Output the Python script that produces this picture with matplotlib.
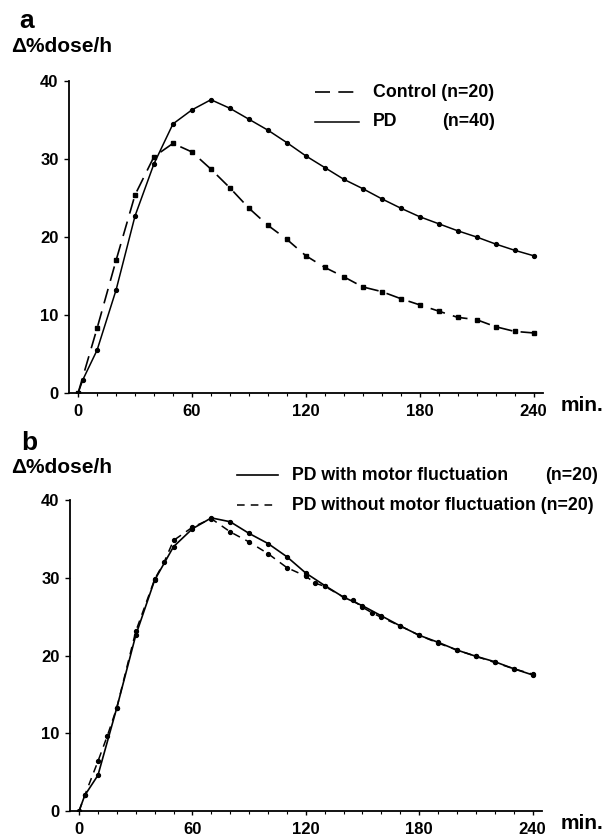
import numpy as np
import matplotlib
matplotlib.use('Agg')
import matplotlib.pyplot as plt
from matplotlib.lines import Line2D
from matplotlib.ticker import MultipleLocator

plt.rcParams['font.family'] = 'Liberation Sans'
plt.rcParams['font.weight'] = 'bold'

# panel a
a_time = [0, 2.5] + list(range(10, 250, 10))
a_pd = [0, 1.7, 5.5, 13.2, 22.7, 29.4, 34.5, 36.3, 37.6, 36.5, 35.1, 33.7, 32.1, 30.4,
        28.9, 27.4, 26.2, 24.9, 23.7, 22.6, 21.7, 20.8, 20.0, 19.1, 18.3, 17.6]
a_ctrl_time = [0] + list(range(10, 250, 10))
a_ctrl = [0, 8.3, 17.0, 25.4, 30.3, 32.0, 30.9, 28.7, 26.3, 23.7, 21.5, 19.7, 17.6,
          16.1, 14.9, 13.6, 13.0, 12.1, 11.3, 10.5, 9.7, 9.4, 8.5, 7.9, 7.7]

# panel b
b_time_with = [0, 3] + list(range(10, 250, 10))
b_with = [0, 2.0, 4.6, 13.3, 22.6, 29.7, 34.0, 36.3, 37.7, 37.2, 35.7, 34.4, 32.7, 30.6,
          29.0, 27.5, 26.4, 25.1, 23.8, 22.6, 21.7, 20.7, 19.9, 19.2, 18.3, 17.5]
b_time_without = [0, 3, 10, 15, 20, 30, 40, 45, 50, 60, 70, 80, 90, 100, 110, 120,
                  125, 130, 140, 145, 150, 155, 160, 170, 180, 190, 200, 210, 220, 230, 240]
b_without = [0, 2.0, 6.4, 9.7, 13.3, 23.1, 29.8, 32.0, 34.8, 36.5, 37.6, 35.9, 34.6, 33.1,
             31.3, 30.2, 29.3, 28.9, 27.5, 27.1, 26.2, 25.5, 24.9, 23.8, 22.6, 21.6, 20.7,
             19.9, 19.1, 18.3, 17.6]

xticks = [0, 60, 120, 180, 240]
yticks = [0, 10, 20, 30, 40]

W, H = 609, 838
fig = plt.figure(figsize=(W / 100, H / 100), dpi=100)

def px_ax(x0, x1, y_bot, y_top):
    return fig.add_axes([x0 / W, 1 - y_bot / H, (x1 - x0) / W, (y_bot - y_top) / H])

ax_a = px_ax(69, 543, 393, 81)
ax_b = px_ax(70, 542, 811, 500)

for ax in (ax_a, ax_b):
    ax.set_xlim(-4.8, 245)
    ax.set_ylim(0, 40)
    ax.spines['top'].set_visible(False)
    ax.spines['right'].set_visible(False)
    ax.spines['left'].set_linewidth(1.3)
    ax.spines['bottom'].set_linewidth(1.3)
    ax.set_xticks(xticks)
    ax.set_yticks(yticks)
    ax.xaxis.set_minor_locator(MultipleLocator(10))
    ax.tick_params(axis='x', which='major', length=3, width=1, pad=5, labelsize=12)
    ax.tick_params(axis='x', which='minor', length=2.5, width=0.8)
    ax.tick_params(axis='y', which='major', length=3.5, width=1, pad=4, labelsize=12)
    for lab in ax.get_xticklabels() + ax.get_yticklabels():
        lab.set_fontweight('bold')
    ax.patch.set_alpha(0)

ax_a.plot(a_time, a_pd, color='black', lw=1.1, marker='o', ms=2.8)
ax_a.plot(a_ctrl_time, a_ctrl, color='black', lw=1.2, dashes=(9, 5), marker='s', ms=2.8)

ax_b.plot(b_time_with, b_with, color='black', lw=1.2, marker='o', ms=2.8)
ax_b.plot(b_time_without, b_without, color='black', lw=1.1, dashes=(5, 4), marker='o', ms=2.8)

def ftxt(x, y, s, size, ha='left'):
    fig.text(x / W, 1 - y / H, s, fontsize=size, fontweight='bold', ha=ha, va='center')

def fline(x0, x1, y, **kw):
    fig.add_artist(Line2D([x0 / W, x1 / W], [1 - y / H, 1 - y / H], color='black', **kw))

# panel labels
ftxt(19, 21, 'a', 19)
ftxt(11, 47, '\u0394%dose/h', 15)
ftxt(21, 443, 'b', 19)
ftxt(11, 467, '\u0394%dose/h', 15)
ftxt(561, 405, 'min.', 15)
ftxt(561, 823, 'min.', 15)

# legend a
fline(315, 359, 92, lw=1.2, dashes=(9, 5))
fline(315, 359, 122, lw=1.1)
ftxt(373, 92, 'Control (n=20)', 12.8)
ftxt(373, 122, 'PD', 12.8)
ftxt(442, 122, '(n=40)', 12.8)

# legend b
fline(237, 278, 475, lw=1.2)
fline(237, 278, 505, lw=1.1, dashes=(5, 4))
ftxt(292, 475, 'PD with motor fluctuation', 12.8)
ftxt(598, 475, '(n=20)', 12.8, ha='right')
ftxt(292, 505, 'PD without motor fluctuation (n=20)', 12.8)

fig.savefig('out.png', dpi=100)
